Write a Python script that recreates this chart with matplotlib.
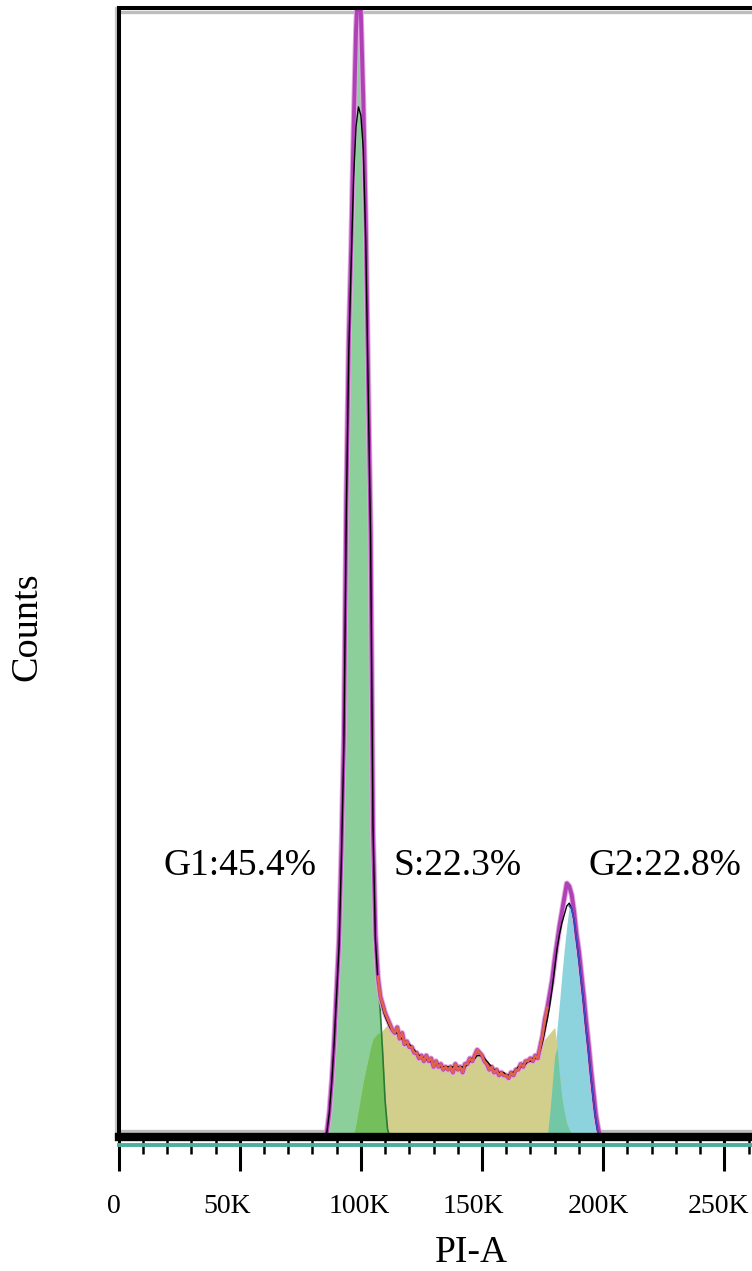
import numpy as np
import matplotlib
matplotlib.use("Agg")
import matplotlib.pyplot as plt
from matplotlib.ticker import FixedLocator, FixedFormatter, MultipleLocator
from matplotlib.transforms import ScaledTranslation

plt.rcParams['font.family'] = ['Liberation Serif', 'DejaVu Serif']

# ---------------------------------------------------------------------------
# PI-A histogram (1K-wide channels, first channel = 84K)
# ---------------------------------------------------------------------------
bin_start_k = 84
measured_counts = [
    0, 0, 2, 9, 20, 34, 52, 70, 102, 142,          # 84-93
    226, 282, 315, 357, 392, 412, 398, 367, 325, 268,  # 94-103
    215, 108, 72, 57, 50, 47, 44, 42, 40, 38,      # 104-113
    37, 39, 35, 37, 33, 34, 32, 32, 30, 30,        # 114-123
    28, 29, 27, 29, 27, 28, 25, 27, 25, 26,        # 124-133
    24, 25, 24, 25, 23, 26, 24, 25, 23, 26,        # 134-143
    26, 28, 27, 29, 31, 30, 29, 27, 26, 24,        # 144-153
    25, 23, 24, 22, 23, 22, 22, 21, 23, 22,        # 154-163
    24, 24, 26, 25, 27, 27, 28, 27, 29, 28,        # 164-173
    32, 36, 42, 46, 51, 56, 63, 69, 75, 80,        # 174-183
    85, 90, 89, 86, 80, 72, 66, 58, 50, 41,        # 184-193
    33, 24, 16, 8, 3, 0, 0,                        # 194-200
]

# Fitted cell-cycle components, each with its own first channel
g1_start_k = 84
g1_counts = [
    0, 0, 2, 9, 20, 34, 52, 70, 102, 142,
    226, 282, 315, 357, 392, 412, 398, 367, 325, 268,
    213, 106, 70, 55, 45, 30, 13, 3, 0, 0,
]

s_start_k = 95
s_counts = [
    0, 0, 1, 5, 10, 15, 20, 24, 28, 32,            # 95-104
    35, 36, 37, 37, 38, 39, 40, 39,                # 105-112
    38, 37, 39, 35, 37, 33, 34, 32, 32, 30,        # 113-122
    30, 28, 29, 27, 29, 27, 28, 25, 27, 25,        # 123-132
    26, 24, 25, 24, 25, 23, 26, 24, 25, 23,        # 133-142
    26, 26, 28, 27, 29, 31, 30, 29, 27, 26,        # 143-152
    24, 25, 23, 24, 22, 23, 22, 22, 21, 23,        # 153-162
    22, 24, 24, 26, 25, 27, 27, 28, 27, 29,        # 163-172
    28,                                            # 173
    31, 33, 35, 36, 37, 38, 39, 32, 22, 14,        # 174-183
    9, 5, 3, 1, 0,                                 # 184-188
]

g2_start_k = 176
g2_counts = [
    0, 1, 9, 19, 29, 39, 48, 58, 67, 75,
    82, 81, 77, 70, 63, 55, 47, 38, 30, 21,
    13, 6, 1, 0,
]
g2_peak_k = 186

# Sum of the fitted model, same channels as the histogram
fit_total = [
    0, 0, 2, 9, 20, 34, 51, 68, 100, 140,
    222, 278, 310, 340, 358, 365, 362, 350, 318, 266,
    213, 110, 70, 56, 50, 46, 43, 41, 39, 38,
    37, 37, 36, 35, 34, 33, 33, 32, 31, 30,
    29, 29, 28, 28, 27, 27, 26, 26, 26, 25,
    25, 25, 25, 25, 25, 25, 25, 25, 25, 25,
    26, 27, 28, 28, 29, 29, 29, 28, 27, 26,
    25, 24, 24, 23, 23, 23, 22, 22, 23, 23,
    24, 25, 25, 26, 26, 27, 27, 28, 28, 29,
    31, 34, 38, 42, 47, 53, 60, 67, 72, 76,
    79, 82, 83, 81, 77, 70, 63, 55, 47, 38,
    30, 21, 13, 6, 1, 0, 0,
]

# S-phase stretch of the histogram that gets its own trace colour
s_trace_range_k = (107, 177)

phase_labels = ["G1:45.4%", "S:22.3%", "G2:22.8%"]

tick_values = [0, 50000, 100000, 150000, 200000, 250000]
tick_labels = ["0", "50K", "100K", "150K", "200K", "250K"]

# ---------------------------------------------------------------------------
n_bins = len(measured_counts)
bins = (bin_start_k + np.arange(n_bins)) * 1000.0
measured = np.asarray(measured_counts, dtype=float)
fit = np.asarray(fit_total, dtype=float)


def on_grid(start_k, values):
    full = np.zeros(n_bins)
    i = start_k - bin_start_k
    full[i:i + len(values)] = values
    return full


g1 = on_grid(g1_start_k, g1_counts)
s = on_grid(s_start_k, s_counts)
g2 = on_grid(g2_start_k, g2_counts)

G1_FILL = '#8ccf9b'
G1S_FILL = '#74bf5c'
S_FILL = '#d2cf8c'
G2_FILL = '#8dd3de'
G2S_FILL = '#72c8a6'
DATA_LINE = '#b040b5'
DATA_HALO = '#e2a8e2'
S_TRACE = '#e2634a'
G1_EDGE = '#2a7a35'
G2_EDGE = '#3b4cc0'

fig = plt.figure(figsize=(7.52, 12.71), dpi=100)
ax = fig.add_axes([0.15771, 0.10504, 0.84455, 0.88866])

ax.set_xlim(0, 262144)
ax.set_ylim(0, 400)

# faint shadow lines along the frame
ax.axhline(398.6, color='#bdbdbd', lw=2.4, zorder=1)
ax.axhline(2.3, color='#bdbdbd', lw=2.4, zorder=1)
ax.axvline(-1050, color='#c4c4c4', lw=1.6, zorder=1, clip_on=False)
ax.axhline(-2.5, color='#4cae9c', lw=2.8, zorder=2.4, clip_on=False)

# model components
ax.fill_between(bins, 0, g1, color=G1_FILL, lw=0, zorder=2)
ax.fill_between(bins, 0, g2, color=G2_FILL, lw=0, zorder=2)
ax.fill_between(bins, 0, s, color=S_FILL, lw=0, zorder=2.1)
ax.fill_between(bins, 0, np.minimum(g1, s), color=G1S_FILL, lw=0, zorder=2.2)
ax.fill_between(bins, 0, np.minimum(g2, s), color=G2S_FILL, lw=0, zorder=2.2)

g1_bins = (g1_start_k + np.arange(len(g1_counts))) * 1000.0
ax.plot(g1_bins, g1_counts, color=G1_EDGE, lw=1.2, zorder=2.6)

# measured histogram
ax.plot(bins, measured, color=DATA_HALO, lw=4.2, zorder=3.0,
        solid_joinstyle='round')
ax.plot(bins, measured, color=DATA_LINE, lw=2.8, zorder=3.1,
        solid_joinstyle='round')

# fitted total
ax.plot(bins, fit, color='black', lw=1.0, zorder=3.15)

# S-phase part of the trace
sel = (bins >= s_trace_range_k[0] * 1000) & (bins <= s_trace_range_k[1] * 1000)
ax.plot(bins[sel], measured[sel], color=S_TRACE, lw=1.8, zorder=3.2)

# right flank of the G2 peak
g2_bins = (g2_start_k + np.arange(len(g2_counts))) * 1000.0
right = g2_bins >= g2_peak_k * 1000
ax.plot(g2_bins[right], np.asarray(g2_counts)[right], color=G2_EDGE, lw=1.2,
        zorder=3.2)

# phase percentages
for text, xk in zip(phase_labels, [18.4, 113.4, 193.9]):
    ax.text(xk * 1000, 93, text, fontsize=27, ha='left', va='baseline',
            color='black', zorder=4)

# frame
for side in ('left', 'top', 'bottom'):
    ax.spines[side].set_color('black')
    ax.spines[side].set_zorder(3.5)
ax.spines['left'].set_linewidth(2.9)
ax.spines['top'].set_linewidth(2.9)
ax.spines['bottom'].set_linewidth(6.0)
ax.spines['right'].set_visible(False)

ax.set_yticks([])
ax.xaxis.set_major_locator(FixedLocator(tick_values))
ax.xaxis.set_major_formatter(FixedFormatter(tick_labels))
ax.xaxis.set_minor_locator(MultipleLocator(10000))
ax.tick_params(axis='x', which='major', direction='out', length=24.5,
               width=2.2, pad=16.5, labelsize=20, color='black')
ax.tick_params(axis='x', which='minor', direction='out', length=12.2,
               width=1.8, color='black')

# tick labels sit a little left of their ticks (offsets in pixels)
label_shift_px = [-5, -13, -2, -9, -5, -6]
for lab, dx in zip(ax.get_xticklabels(), label_shift_px):
    lab.set_transform(lab.get_transform()
                      + ScaledTranslation(dx / fig.dpi, 0, fig.dpi_scale_trans))

ax.set_xlabel('PI-A', fontsize=27, va='baseline')
ax.xaxis.set_label_coords(0.5549, -0.1102)
ax.set_ylabel('Counts', fontsize=27.5, va='baseline')
ax.yaxis.set_label_coords(-0.1300, 0.452)

fig.savefig('out.png', dpi=100)
